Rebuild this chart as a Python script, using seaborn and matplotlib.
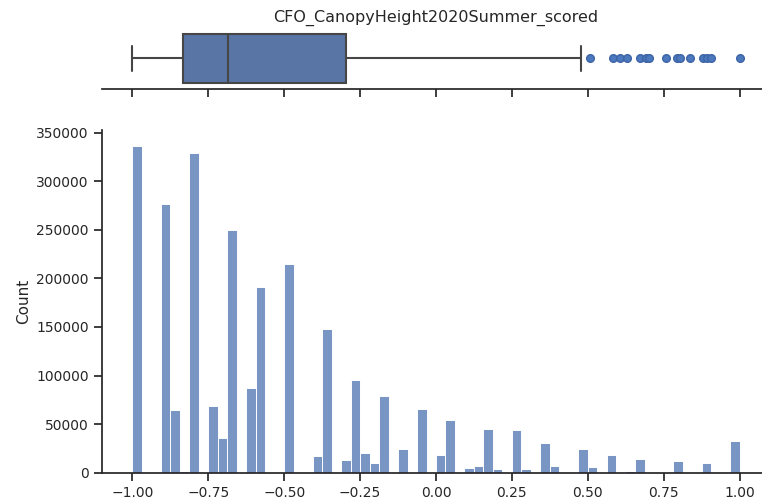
import matplotlib
matplotlib.use("Agg")
import matplotlib.pyplot as plt
import seaborn as sns

sns.set_theme(style="ticks")

# histogram data: score value (one per occupied bin) and pixel count
scores = [-1.0, -0.891, -0.859, -0.828, -0.797, -0.734, -0.703, -0.672,
          -0.609, -0.578, -0.484, -0.391, -0.359, -0.297, -0.266, -0.234,
          -0.203, -0.172, -0.109, -0.047, 0.016, 0.047, 0.109, 0.141,
          0.172, 0.203, 0.266, 0.297, 0.359, 0.391, 0.484, 0.516,
          0.578, 0.641, 0.672, 0.797, 0.891, 1.0]
counts = [336000, 276300, 64500, 1800, 329100, 68600, 35700, 249800,
          87500, 191100, 214800, 17200, 147600, 13000, 95400, 20300,
          10300, 78600, 24100, 65600, 18200, 53900, 5200, 7200,
          45000, 4100, 44000, 3500, 30300, 7200, 24100, 5500,
          18200, 1700, 14100, 12000, 10300, 33000]

# box summary
box_q1 = -0.834
box_med = -0.685
box_q3 = -0.297
whisker_lo = -1.0
whisker_hi = 0.476
outliers = [0.507, 0.584, 0.606, 0.629, 0.672, 0.69, 0.703, 0.757,
            0.795, 0.804, 0.837, 0.879, 0.894, 0.905, 1.0]

col_name = "CFO_CanopyHeight2020Summer_scored"

W, H = 762, 504
fig = plt.figure(figsize=(W / 100, H / 100), dpi=100)
left, right = 102, 770
ax_box = fig.add_axes([left / W, 1 - 89.3 / H, (right - left) / W, 62 / H])
ax_hist = fig.add_axes([left / W, 1 - 472.7 / H, (right - left) / W,
                        (472.7 - 130) / H])

# histogram
sns.histplot(x=scores, weights=counts, bins=64, binrange=(-1, 1), ax=ax_hist)
ax_hist.set_ylabel("Count", fontsize=11)
ax_hist.set_xlim(-1.1, 1.1)
ax_hist.set_xticks([-1.0, -0.75, -0.5, -0.25, 0.0, 0.25, 0.5, 0.75, 1.0])
ax_hist.set_xticklabels(["−1.00", "−0.75", "−0.50", "−0.25", "0.00",
                         "0.25", "0.50", "0.75", "1.00"])
ax_hist.tick_params(labelsize=10)
sns.despine(ax=ax_hist)

# box plot from summary stats
stats = [{"whislo": whisker_lo, "q1": box_q1, "med": box_med,
          "q3": box_q3, "whishi": whisker_hi, "fliers": outliers}]
line_col = "#464646"
ax_box.bxp(stats, vert=False, widths=0.8, patch_artist=True,
           boxprops=dict(facecolor="#5875a5", edgecolor=line_col, linewidth=1.5),
           medianprops=dict(color=line_col, linewidth=1.5),
           whiskerprops=dict(color=line_col, linewidth=1.5),
           capprops=dict(color=line_col, linewidth=1.5),
           flierprops=dict(marker="o", markersize=5.5, markerfacecolor="#4c78bd",
                           markeredgecolor="#3d64a6", markeredgewidth=1))
ax_box.set_ylim(0.5, 1.5)
ax_box.set_xlim(-1.1, 1.1)
ax_box.set_xticks([-1.0, -0.75, -0.5, -0.25, 0.0, 0.25, 0.5, 0.75, 1.0])
ax_box.set_xticklabels([])
ax_box.set_yticks([])
ax_box.set_title(col_name, fontsize=11.5, pad=4)
sns.despine(ax=ax_box, left=True)

fig.savefig("out.png", dpi=100)
